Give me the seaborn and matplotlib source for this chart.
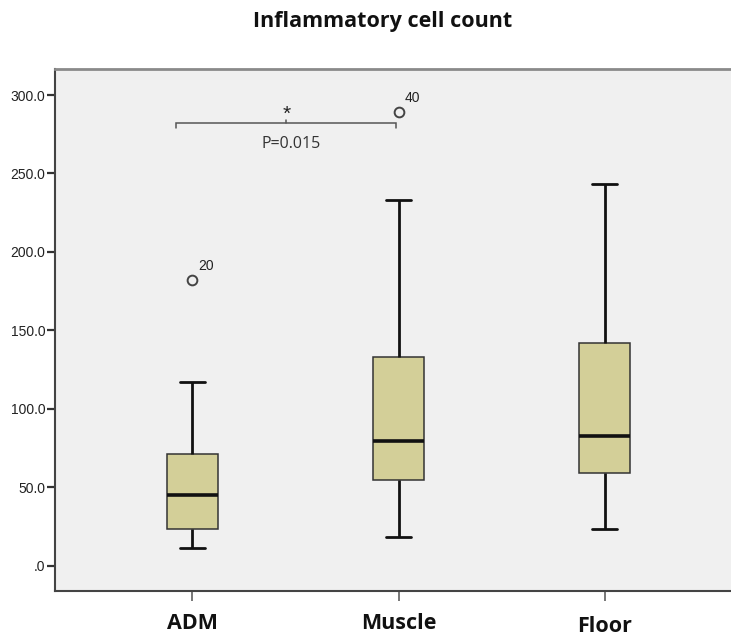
import numpy as np
import pandas as pd
import matplotlib
matplotlib.use("Agg")
import matplotlib.pyplot as plt
import matplotlib.transforms as mtransforms
from matplotlib.ticker import FixedLocator, FuncFormatter
import seaborn as sns

# ---------------- data ----------------
groups = ["ADM", "Muscle", "Floor"]
whisker_low = [11.3, 18.3, 23.4]
q1 = [23.4, 54.8, 58.9]
median = [45.1, 79.3, 82.5]
q3 = [71.2, 132.8, 141.8]
whisker_high = [117.3, 233.0, 243.1]
outlier_values = [[182.1], [289.0], []]
outlier_ids = [["20"], ["40"], []]
y_ticks = [0, 50, 100, 150, 200, 250, 300]
title = "Inflammatory cell count"
sig_pair = ("ADM", "Muscle")
sig_height = 282.3
sig_mark = "*"
p_label = "P=0.015"

# Build sample sets whose quartiles / whiskers / outliers reproduce the
# summary statistics above exactly (numpy linear percentiles).
rows = []
for g, lo, a, m, b, hi, outs in zip(groups, whisker_low, q1, median, q3,
                                    whisker_high, outlier_values):
    for v in [lo, a, a, m, m, b, b, hi] + list(outs):
        rows.append({"group": g, "value": v})
df = pd.DataFrame(rows)

# ---------------- style ----------------
sns.set_style("white")
plt.rcParams["font.family"] = ["Open Sans", "DejaVu Sans"]

W, H, DPI = 731, 642, 100
fig = plt.figure(figsize=(W / DPI, H / DPI), dpi=DPI, facecolor="white")
ax = fig.add_axes([55 / W, 51 / H, 687 / W, 522 / H])
ax.set_facecolor("#f0f0f0")

box_color = "#d3cf98"
sns.boxplot(
    data=df, x="group", y="value", order=groups, ax=ax,
    width=0.25, color=box_color, saturation=1, whis=1.5,
    linecolor="#222222", linewidth=1.0,
    boxprops=dict(edgecolor="#333333", linewidth=1.1),
    medianprops=dict(color="#111111", linewidth=2.6),
    whiskerprops=dict(color="#111111", linewidth=2.0),
    capprops=dict(color="#111111", linewidth=2.0),
    flierprops=dict(marker="o", markersize=7, markerfacecolor="none",
                    markeredgecolor="#444444", markeredgewidth=1.4),
)

ax.set_xlim(-0.667, 2.667)
ax.set_ylim(-16.2, 316.6)
ax.set_xlabel("")
ax.set_ylabel("")

# outlier case labels
for i, (vals, ids) in enumerate(zip(outlier_values, outlier_ids)):
    for v, lab in zip(vals, ids):
        ax.annotate(lab, (i, v), xytext=(10, 10), textcoords="offset points",
                    ha="center", va="center", fontsize=10, color="#222222",
                    family=["Liberation Sans", "DejaVu Sans"])

# significance bracket
x0 = groups.index(sig_pair[0]) - 0.08
x1 = groups.index(sig_pair[1]) - 0.01
xm = (x0 + x1) / 2
ax.plot([x0, x0, x1, x1], [sig_height - 3.2, sig_height, sig_height, sig_height - 3.2],
        color="#555555", lw=1.1, solid_joinstyle="miter")
ax.plot([xm, xm], [sig_height, sig_height + 1.6], color="#555555", lw=1.1)
ax.text(xm, sig_height + 5.5, sig_mark, ha="center", va="center",
        fontsize=15, color="#222222", family=["Liberation Sans", "DejaVu Sans"])
ax.text(xm + 0.022, sig_height - 13.6, p_label, ha="center", va="center",
        fontsize=11.5, color="#333333")

# axes styling
ax.yaxis.set_major_locator(FixedLocator(y_ticks))


def spss_fmt(v, pos):
    s = f"{v:.1f}"
    if s.startswith("0"):
        s = s[1:]
    return s


ax.yaxis.set_major_formatter(FuncFormatter(spss_fmt))
ax.tick_params(axis="y", direction="out", length=6, width=1.6, color="#333333",
               pad=1, labelsize=10, labelcolor="#222222", left=True)
ax.tick_params(axis="x", direction="out", length=7, width=1.4, color="#777777",
               pad=9, labelsize=15.5, labelcolor="#111111", bottom=True)
for lab in ax.get_yticklabels():
    lab.set_family(["Liberation Sans", "DejaVu Sans"])
for lab in ax.get_xticklabels():
    lab.set_fontweight("bold")
xl = ax.get_xticklabels()
if len(xl) == 3:
    xl[2].set_transform(xl[2].get_transform() +
                        mtransforms.ScaledTranslation(0, -3 / DPI, fig.dpi_scale_trans))

ax.spines["top"].set_color("#8a8a8a")
ax.spines["top"].set_linewidth(2.0)
ax.spines["left"].set_color("#444444")
ax.spines["left"].set_linewidth(1.5)
ax.spines["bottom"].set_color("#444444")
ax.spines["bottom"].set_linewidth(1.5)
ax.spines["right"].set_visible(False)

fig.text(382.5 / W, 1 - 21 / H, title, ha="center", va="center",
         fontsize=15.5, fontweight="bold", color="#111111")

fig.savefig("out.png", dpi=DPI)
